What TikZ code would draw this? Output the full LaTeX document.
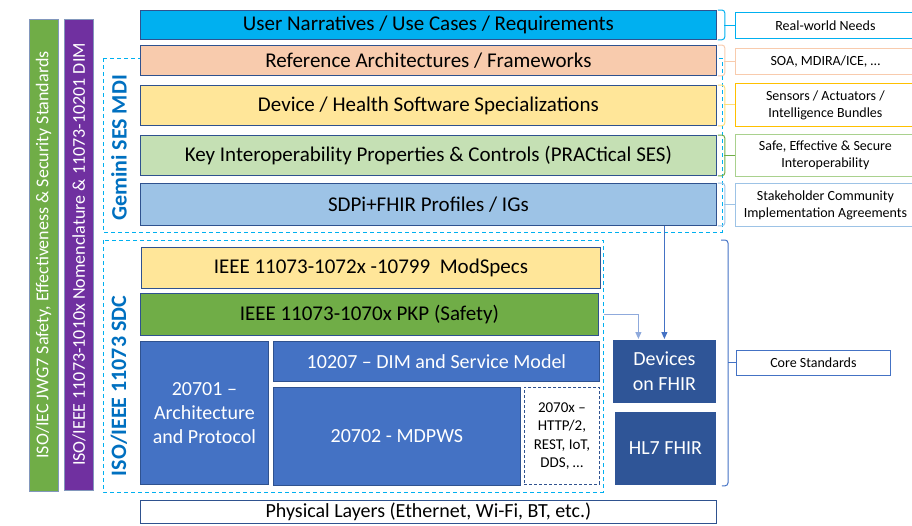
\documentclass[tikz,border=0pt]{standalone}
\usepackage{fontspec}
\setmainfont{Carlito}
\usetikzlibrary{arrows.meta}

\definecolor{needsblue}{HTML}{00B0F0}
\definecolor{peach}{HTML}{F8CBAD}
\definecolor{paleyellow}{HTML}{FFE699}
\definecolor{gold}{HTML}{FFC000}
\definecolor{palegreen}{HTML}{C5E0B4}
\definecolor{greenline}{HTML}{A9D18E}
\definecolor{leafgreen}{HTML}{70AD47}
\definecolor{paleblue}{HTML}{9DC3E6}
\definecolor{midblue}{HTML}{4472C4}
\definecolor{darkblue}{HTML}{2F5597}
\definecolor{edgeblue}{HTML}{2F528F}
\definecolor{arrowblue}{HTML}{8FAADC}
\definecolor{titleblue}{HTML}{0070C0}
\definecolor{violet}{HTML}{7030A0}

\begin{document}
\begin{tikzpicture}[x=1pt,y=-1pt,
    layer/.style={draw=edgeblue,line width=0.8pt,anchor=north west,inner sep=0pt,
      align=center,font=\fontsize{21}{25}\selectfont},
    tag/.style={draw=#1,line width=0.8pt,anchor=north west,inner sep=0pt,
      align=center,font=\fontsize{14}{17}\selectfont},
    brace/.style={draw=#1,line width=1pt,rounded corners=3pt},
    group/.style={draw=needsblue,line width=0.8pt,dash pattern=on 4pt off 3pt},
    bar/.style={rotate=90,draw=edgeblue!60,line width=0.6pt,inner sep=0pt,
      minimum height=29pt,text=white,font=\fontsize{18}{21}\selectfont},
    title/.style={rotate=90,text=titleblue,font=\bfseries\fontsize{22}{25}\selectfont},
    feed/.style={-{Triangle[length=7pt,width=6pt]},line width=1pt}]
  \useasboundingbox (0,0) rectangle (912,525);

  % standards bars on the left
  \node[bar,fill=leafgreen,minimum width=472pt] (jwg) at (43.5,255)
    {ISO/IEC JWG7 Safety, Effectiveness \& Security Standards};
  \node[bar,fill=violet,minimum width=471pt] (nomen) at (79,254.5)
    {ISO/IEEE 11073-1010x Nomenclature \& 11073-10201 DIM};

  % dashed groups
  \draw[group] (103,58) rectangle (722,232);
  \draw[group] (103,240) rectangle (603,492);
  \node[title] (gemini) at (119,148) {Gemini SES MDI};
  \node[title] (sdc) at (119,386) {ISO/IEEE 11073 SDC};

  % upper layers
  \node[layer,fill=needsblue,minimum width=576pt,minimum height=29pt] (user) at (140,10)
    {User Narratives / Use Cases / Requirements};
  \node[layer,fill=peach,minimum width=576pt,minimum height=30pt] (refarch) at (140,45)
    {Reference Architectures / Frameworks};
  \node[layer,fill=paleyellow,minimum width=576pt,minimum height=40pt] (devspec) at (140,85)
    {Device / Health Software Specializations};
  \node[layer,fill=palegreen,minimum width=576pt,minimum height=40pt] (keyprop) at (140,135)
    {Key Interoperability Properties \& Controls (PRACtical SES)};
  \node[layer,fill=paleblue,minimum width=576pt,minimum height=42pt] (sdpi) at (140,183)
    {SDPi+FHIR Profiles / IGs};

  % SDC stack
  \node[layer,fill=paleyellow,minimum width=459pt,minimum height=41pt] (modspec) at (141,247)
    {IEEE 11073-1072x -10799~ ModSpecs};
  \node[layer,fill=leafgreen,minimum width=458pt,minimum height=42pt] (pkp) at (140,293)
    {IEEE 11073-1070x PKP (Safety)};
  \node[layer,fill=midblue,text=white,minimum width=128pt,minimum height=143pt,
    font=\fontsize{20}{24}\selectfont] (arch) at (140,341)
    {20701 --\\Architecture\\and Protocol};
  \node[layer,fill=midblue,text=white,minimum width=326pt,minimum height=40pt,
    font=\fontsize{20}{24}\selectfont] (dim) at (273,341)
    {10207 -- DIM and Service Model};
  \node[layer,fill=midblue,text=white,minimum width=247pt,minimum height=98pt,
    font=\fontsize{20}{24}\selectfont] (mdpws) at (273,387)
    {20702 - MDPWS};
  \node[layer,dash pattern=on 3pt off 2pt,fill=white,minimum width=75pt,minimum height=97pt,
    font=\fontsize{15}{18.5}\selectfont] (other) at (524,387)
    {2070x --\\HTTP/2,\\REST, IoT,\\DDS, \dots};

  % FHIR side
  \node[layer,fill=darkblue,draw=white,text=white,minimum width=104pt,minimum height=64pt,
    font=\fontsize{20}{25}\selectfont] (devfhir) at (612,339) {Devices\\on FHIR};
  \node[layer,fill=darkblue,draw=white,text=white,minimum width=102pt,minimum height=74pt,
    font=\fontsize{20}{24}\selectfont] (hl7) at (614,411) {HL7 FHIR};
  \node[layer,fill=white,minimum width=576pt,minimum height=23pt,
    font=\fontsize{20}{23}\selectfont] (phys) at (140,500)
    {Physical Layers (Ethernet, Wi-Fi, BT, etc.)};

  % feeds into Devices on FHIR
  \draw[feed,arrowblue] ([xshift=5pt]pkp.east) -| ([xshift=-26pt]devfhir.north);
  \draw[feed,midblue] (sdpi.south -| devfhir.north) -- (devfhir.north);

  % right hand tags
  \node[tag=needsblue,minimum width=180pt,minimum height=26pt] (needs) at (735,12) {Real-world Needs};
  \node[tag=peach,minimum width=180pt,minimum height=26pt] (soa) at (735,48) {SOA, MDIRA/ICE, \dots};
  \node[tag=gold,minimum width=180pt,minimum height=43pt] (sensors) at (735,83)
    {Sensors / Actuators /\\Intelligence Bundles};
  \node[tag=greenline,minimum width=180pt,minimum height=42pt] (safe) at (735,134)
    {Safe, Effective \& Secure\\Interoperability};
  \node[tag=paleblue,minimum width=180pt,minimum height=43pt] (stake) at (735,183)
    {Stakeholder Community\\Implementation Agreements};
  \node[tag=midblue,minimum width=154pt,minimum height=25pt] (core) at (736,350) {Core Standards};

  % brackets
  \draw[brace=needsblue] ([xshift=1pt]user.north east) -- ++(7,0) |- ([xshift=1pt]user.south east);
  \draw[brace=needsblue] (needs.west) -- ++(-11,0);
  \draw[brace=peach] ([xshift=1pt]refarch.north east) -- ++(7,0) |- ([xshift=1pt]refarch.south east);
  \draw[brace=peach] (soa.west) -- ++(-11,0);
  \draw[brace=paleyellow!80!gold] ([xshift=1pt]devspec.north east) -- ++(7,0) |- ([xshift=1pt]devspec.south east);
  \draw[brace=paleyellow!80!gold] (sensors.west) -- ++(-11,0);
  \draw[brace=leafgreen] ([xshift=1pt]keyprop.north east) -- ++(7,0) |- ([xshift=1pt]keyprop.south east);
  \draw[brace=leafgreen] (safe.west) -- ++(-11,0);
  \draw[brace=paleblue] ([xshift=1pt]sdpi.north east) -- ++(7,0) |- ([xshift=1pt]sdpi.south east);
  \draw[brace=paleblue] (stake.west) -- ++(-11,0);
  \coordinate (coretop) at (721,240);
  \draw[brace=midblue] (coretop) -- ++(7,0) |- ([xshift=5pt]hl7.south east);
  \draw[brace=midblue] (core.west) -- ++(-8,0);
\end{tikzpicture}
\end{document}
